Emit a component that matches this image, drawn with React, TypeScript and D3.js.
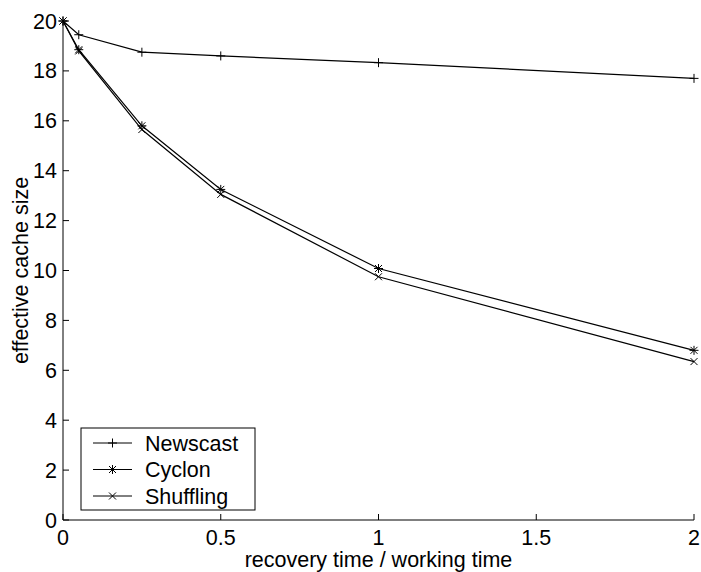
import React from "react";
import * as d3 from "d3";

const xs = [0, 0.05, 0.25, 0.5, 1, 2];
const newscast = [20, 19.45, 18.75, 18.6, 18.33, 17.7];
const cyclon = [20, 18.85, 15.8, 13.25, 10.08, 6.8];
const shuffling = [20, 18.8, 15.65, 13.05, 9.75, 6.35];
const xTicks = [0, 0.5, 1, 1.5, 2];
const xTickLabels = ["0", "0.5", "1", "1.5", "2"];
const yTicks = [0, 2, 4, 6, 8, 10, 12, 14, 16, 18, 20];
const seriesNames = ["Newscast", "Cyclon", "Shuffling"];

const W = 701, H = 572;
const L = 63, R = 694, T = 21, B = 520;
const FONT = "Liberation Sans, Arial, Helvetica, sans-serif";
const FS = 21.5;

function Marker({ type, x, y }: { type: string; x: number; y: number }) {
  const s = 4.5;
  if (type === "plus") {
    return <path d={`M${x - s},${y}H${x + s}M${x},${y - s}V${y + s}`} stroke="#000" strokeWidth={1} />;
  }
  if (type === "x") {
    const t = 3.5;
    return <path d={`M${x - t},${y - t}L${x + t},${y + t}M${x - t},${y + t}L${x + t},${y - t}`} stroke="#000" strokeWidth={1} />;
  }
  const t = 3.5;
  return (
    <path
      d={`M${x - s},${y}H${x + s}M${x},${y - s}V${y + s}M${x - t},${y - t}L${x + t},${y + t}M${x - t},${y + t}L${x + t},${y - t}`}
      stroke="#000"
      strokeWidth={1}
    />
  );
}

export default function App() {
  const x = d3.scaleLinear().domain([0, 2]).range([L, R]);
  const y = d3.scaleLinear().domain([0, 20]).range([B, T]);
  const line = d3
    .line<number>()
    .x((_, i) => x(xs[i]))
    .y((d) => y(d));
  const series = [
    { name: seriesNames[0], data: newscast, marker: "plus" },
    { name: seriesNames[1], data: cyclon, marker: "star" },
    { name: seriesNames[2], data: shuffling, marker: "x" },
  ];
  const tickLen = 6;
  const legX = 81, legY = 428, legW = 174, legH = 82;
  return (
    <svg width={W} height={H} style={{ position: "absolute", left: 0, top: 0, background: "#fff" }} fontFamily={FONT}>
      <rect width={W} height={H} fill="#fff" />
      {/* axes */}
      <line x1={L} y1={T} x2={L} y2={B} stroke="#000" strokeWidth={1} />
      <line x1={L} y1={B} x2={R} y2={B} stroke="#000" strokeWidth={1} />
      {yTicks.map((t) => (
        <g key={"y" + t}>
          <line x1={L} x2={L + tickLen} y1={y(t)} y2={y(t)} stroke="#000" strokeWidth={1} />
          <text x={L - 6} y={y(t)} dy="0.35em" textAnchor="end" fontSize={FS}>
            {t}
          </text>
        </g>
      ))}
      {xTicks.map((t, i) => (
        <g key={"x" + t}>
          <line x1={x(t)} x2={x(t)} y1={B} y2={B - tickLen} stroke="#000" strokeWidth={1} />
          <text x={x(t)} y={B + 25} textAnchor="middle" fontSize={FS}>
            {xTickLabels[i]}
          </text>
        </g>
      ))}
      <text x={(L + R) / 2} y={567} textAnchor="middle" fontSize={FS}>
        recovery time / working time
      </text>
      <text transform={`translate(28, ${(T + B) / 2}) rotate(-90)`} textAnchor="middle" fontSize={FS}>
        effective cache size
      </text>
      {series.map((s) => (
        <g key={s.name}>
          <path d={line(s.data) || ""} fill="none" stroke="#000" strokeWidth={1.2} />
          {s.data.map((v, i) => (
            <Marker key={i} type={s.marker} x={x(xs[i])} y={y(v)} />
          ))}
        </g>
      ))}
      {/* legend */}
      <rect x={legX} y={legY} width={legW} height={legH} fill="#fff" stroke="#000" strokeWidth={1} />
      {series.map((s, i) => {
        const cy = legY + 15 + i * 26.5;
        return (
          <g key={"leg" + s.name}>
            <line x1={93} x2={132} y1={cy} y2={cy} stroke="#000" strokeWidth={1} />
            <Marker type={s.marker} x={112.5} y={cy} />
            <text x={145} y={cy} dy="0.35em" fontSize={FS}>
              {s.name}
            </text>
          </g>
        );
      })}
    </svg>
  );
}
